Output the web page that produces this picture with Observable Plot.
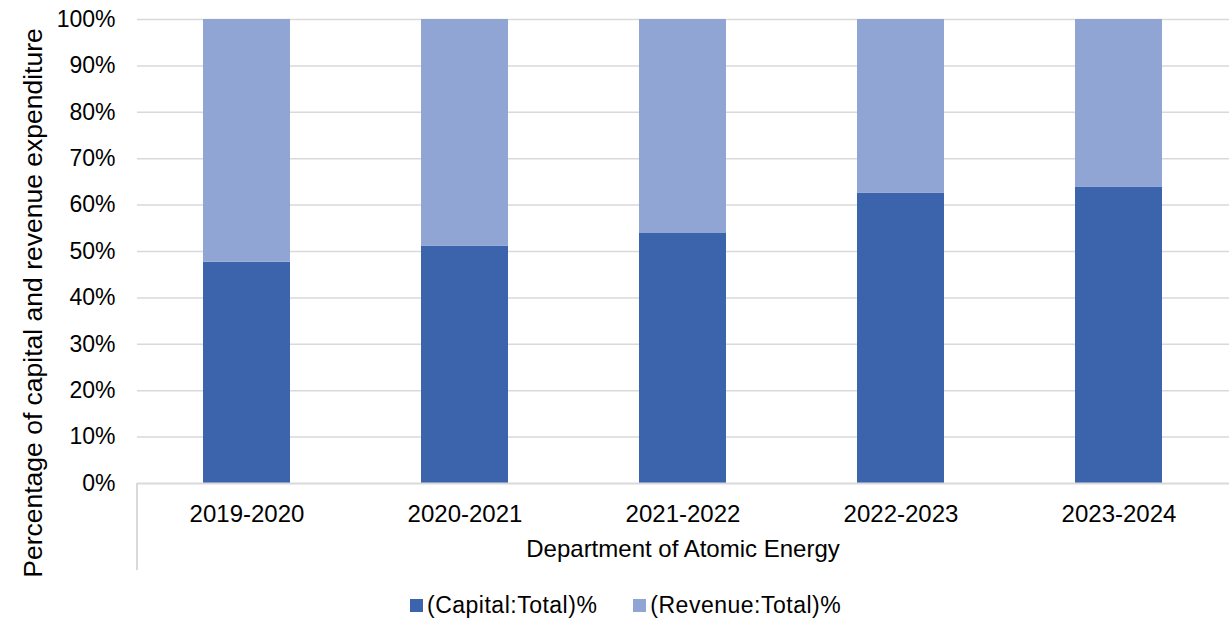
<!DOCTYPE html>
<html>
<head>
<meta charset="utf-8">
<script src="https://cdn.jsdelivr.net/npm/d3@7"></script>
<script src="https://cdn.jsdelivr.net/npm/@observablehq/plot@0.6"></script>
<style>
  html, body { margin: 0; padding: 0; background: #fff; }
  body { width: 1229px; height: 618px; overflow: hidden; font-family: "Liberation Sans", Arial, sans-serif; }
  #chart svg { display: block; }
  #legend { position: relative; height: 26px; margin-top: 12px; }
  #legend .row { position: absolute; left: 410px; display: flex; align-items: center; height: 26px; }
  #legend .item { display: flex; align-items: center; font-size: 23px; letter-spacing: 0.5px; color: #000; margin-right: 36px; }
  #legend .sw { width: 13px; height: 13px; margin-right: 4px; }
</style>
</head>
<body>
<div id="chart"></div>
<div id="legend"><div class="row"></div></div>
<script>
const years = ["2019-2020", "2020-2021", "2021-2022", "2022-2023", "2023-2024"];
const capital = [47.7, 51.1, 54.0, 62.6, 63.9];
const revenue = [52.3, 48.9, 46.0, 37.4, 36.1];
const seriesNames = ["(Capital:Total)%", "(Revenue:Total)%"];
const seriesColors = ["#3B64AD", "#91A5D5"];
const yTicks = [0, 10, 20, 30, 40, 50, 60, 70, 80, 90, 100];
const yTitle = "Percentage of capital and revenue expenditure";
const xTitle = "Department of Atomic Energy";

const data = years.flatMap((yr, i) => [
  {year: yr, series: seriesNames[0], value: capital[i]},
  {year: yr, series: seriesNames[1], value: revenue[i]}
]);

const chart = Plot.plot({
  width: 1229,
  height: 580,
  marginLeft: 137,
  marginRight: 0,
  marginTop: 19,
  marginBottom: 97,
  style: {fontFamily: "'Liberation Sans', Arial, sans-serif", fontSize: "23px", color: "#000", background: "#fff"},
  x: {domain: years, paddingInner: 0.6, paddingOuter: 0.3, label: null},
  y: {domain: [0, 100], ticks: yTicks, label: null},
  color: {domain: seriesNames, range: seriesColors},
  marks: [
    Plot.gridY(yTicks.slice(1), {stroke: "#d9d9d9", strokeOpacity: 1, strokeWidth: 1.5}),
    Plot.barY(data, Plot.stackY({x: "year", y: "value", fill: "series", order: seriesNames})),
    Plot.ruleY([0], {stroke: "#d9d9d9", strokeWidth: 2}),
    Plot.axisY({ticks: yTicks, tickSize: 0, tickPadding: 22, tickFormat: d => d + "%", fontSize: 23, label: null}),
    Plot.axisX({tickSize: 0, tickPadding: 21, fontSize: 24, label: null})
  ]
});
document.getElementById("chart").appendChild(chart);

// Decorations: category-axis left divider, axis titles
const svg = d3.select(chart);
const xs = chart.scale("x");
const ys = chart.scale("y");
const x0 = xs.range[0];
const x1 = xs.range[1];
const yBase = ys.apply(0);
const yTop = ys.apply(100);
svg.append("line")
  .attr("x1", x0).attr("x2", x0)
  .attr("y1", yBase).attr("y2", yBase + 87)
  .attr("stroke", "#d9d9d9").attr("stroke-width", 2);
svg.append("text")
  .attr("x", (x0 + x1) / 2).attr("y", yBase + 74)
  .attr("text-anchor", "middle")
  .attr("font-size", 24)
  .attr("fill", "#000")
  .text(xTitle);
svg.append("text")
  .attr("transform", `translate(42,${(yTop + yBase) / 2 + 52}) rotate(-90)`)
  .attr("text-anchor", "middle")
  .attr("font-size", 26.5)
  .attr("fill", "#000")
  .text(yTitle);

// Legend
const row = d3.select("#legend .row");
seriesNames.forEach((name, i) => {
  const it = row.append("div").attr("class", "item");
  it.append("div").attr("class", "sw").style("background", seriesColors[i]);
  it.append("span").text(name);
});
</script>
</body>
</html>
